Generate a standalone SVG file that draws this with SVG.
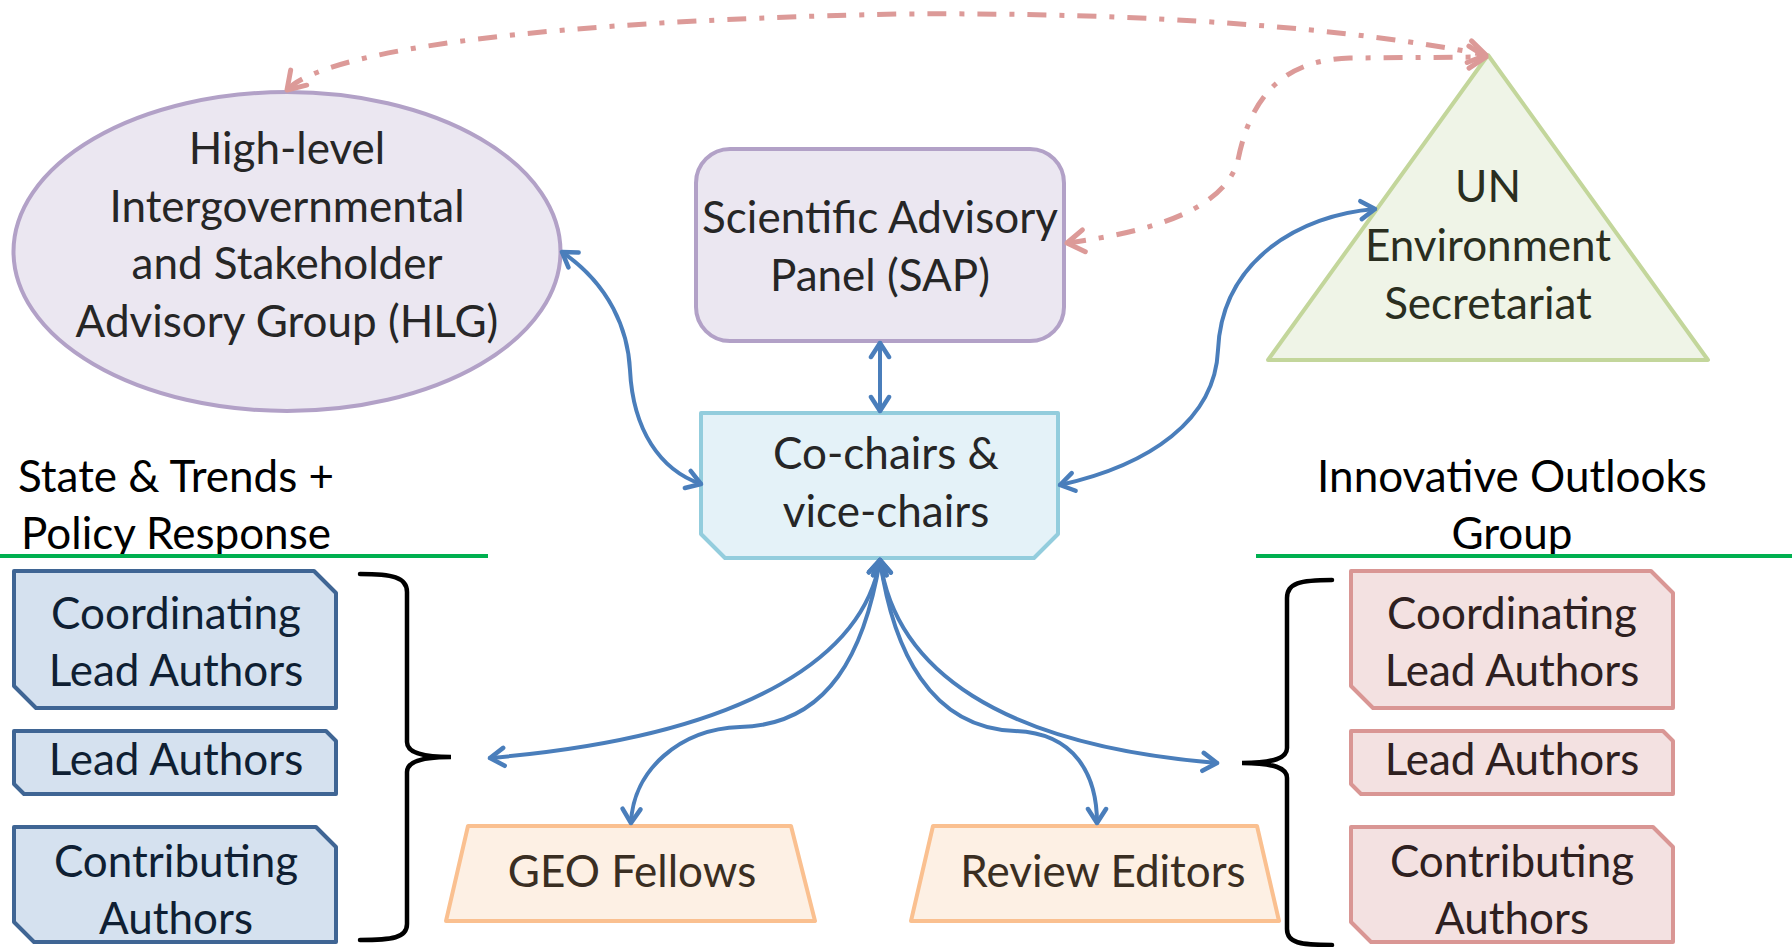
<svg xmlns="http://www.w3.org/2000/svg" width="1792" height="947" viewBox="0 0 1792 947">
<style>
text{font-family:Lato,"Liberation Sans",sans-serif;font-size:44px;text-anchor:middle}
.purple{fill:#EBE7F1;stroke:#B2A1C7;stroke-width:4}
.blue{fill:#D5E1EF;stroke:#3F6594;stroke-width:4;stroke-linejoin:round}
.pink{fill:#F3E1E1;stroke:#D99694;stroke-width:4;stroke-linejoin:round}
.orange{fill:#FDF0E4;stroke:#FAC090;stroke-width:4;stroke-linejoin:round}
.conn{fill:none;stroke:#4A7EBB;stroke-width:4;stroke-linecap:round}
.dash{fill:none;stroke:#DC9A98;stroke-width:5;stroke-dasharray:19 13 5 13}
.brace{fill:none;stroke:#000;stroke-width:4.5;stroke-linecap:round}
.green{stroke:#00B050;stroke-width:4}
.t1{fill:#262626}
.tb{fill:#0F1F33}
.tp{fill:#2E2020}
.to{fill:#3A2E22}
.tg{fill:#2A2E20}
.hd{fill:#000}
</style>
<defs>
<marker id="ab" markerUnits="userSpaceOnUse" viewBox="-20 -12 24 24" markerWidth="24" markerHeight="24" refX="0" refY="0" orient="auto-start-reverse">
<path d="M-14,-9 L0,0 L-14,9" fill="none" stroke="#4A7EBB" stroke-width="4.5" stroke-linecap="round" stroke-linejoin="round"/>
</marker>
<marker id="ap" markerUnits="userSpaceOnUse" viewBox="-22 -14 26 28" markerWidth="26" markerHeight="28" refX="0" refY="0" orient="auto-start-reverse">
<path d="M-17,-11 L0,0 L-17,11" fill="none" stroke="#DC9A98" stroke-width="5" stroke-linecap="round" stroke-linejoin="round"/>
</marker>
</defs>
<rect width="1792" height="947" fill="#fff"/>

<g id="hlg">
<ellipse class="purple" cx="287" cy="251.5" rx="273.5" ry="159.5"/>
<text class="t1" x="287" y="164">High-level</text>
<text class="t1" x="287" y="221.5">Intergovernmental</text>
<text class="t1" x="287" y="279">and Stakeholder</text>
<text class="t1" x="287" y="336.5">Advisory Group (HLG)</text>
</g>

<g id="sap">
<rect class="purple" x="696" y="149" width="368" height="192" rx="34"/>
<text class="t1" x="880" y="233">Scientific Advisory</text>
<text class="t1" x="880" y="291">Panel (SAP)</text>
</g>

<g id="un">
<polygon points="1488,55 1708,360 1268,360" fill="#EFF4E7" stroke="#C3D69B" stroke-width="4" stroke-linejoin="round"/>
<text class="tg" x="1488" y="202">UN</text>
<text class="tg" x="1488" y="261">Environment</text>
<text class="tg" x="1488" y="319">Secretariat</text>
</g>

<g id="cochairs">
<polygon points="701,413 1058,413 1058,534 1034,558 725,558 701,534" fill="#E4F2F8" stroke="#93CDDD" stroke-width="4" stroke-linejoin="round"/>
<text class="t1" x="886" y="469">Co-chairs &amp;</text>
<text class="t1" x="886" y="527">vice-chairs</text>
</g>

<g id="header-left">
<text class="hd" x="176" y="492">State &amp; Trends +</text>
<text class="hd" x="176" y="549">Policy Response</text>
<line class="green" x1="0" y1="556" x2="488" y2="556"/>
</g>

<g id="header-right">
<text class="hd" x="1512" y="492">Innovative Outlooks</text>
<text class="hd" x="1512" y="549">Group</text>
<line class="green" x1="1256" y1="556" x2="1792" y2="556"/>
</g>

<g id="left-cla">
<polygon class="blue" points="14,571 314,571 336,593 336,708 36,708 14,686"/>
<text class="tb" x="176" y="629">Coordinating</text>
<text class="tb" x="176" y="686">Lead Authors</text>
</g>
<g id="left-la">
<polygon class="blue" points="14,731 326,731 336,741 336,794 24,794 14,784"/>
<text class="tb" x="176" y="775">Lead Authors</text>
</g>
<g id="left-ca">
<polygon class="blue" points="14,827 316,827 336,847 336,942 34,942 14,922"/>
<text class="tb" x="176" y="877">Contributing</text>
<text class="tb" x="176" y="934">Authors</text>
</g>

<g id="right-cla">
<polygon class="pink" points="1351,571 1651,571 1673,593 1673,708 1373,708 1351,686"/>
<text class="tp" x="1512" y="629">Coordinating</text>
<text class="tp" x="1512" y="686">Lead Authors</text>
</g>
<g id="right-la">
<polygon class="pink" points="1351,731 1663,731 1673,741 1673,794 1361,794 1351,784"/>
<text class="tp" x="1512" y="775">Lead Authors</text>
</g>
<g id="right-ca">
<polygon class="pink" points="1351,827 1653,827 1673,847 1673,942 1371,942 1351,922"/>
<text class="tp" x="1512" y="877">Contributing</text>
<text class="tp" x="1512" y="934">Authors</text>
</g>

<g id="geo-fellows">
<polygon class="orange" points="468,826 791,826 815,921 446,921"/>
<text class="to" x="632" y="887">GEO Fellows</text>
</g>

<g id="review-editors">
<polygon class="orange" points="933,826 1257,826 1279,921 911,921"/>
<text class="to" x="1103" y="887">Review Editors</text>
</g>

<g id="braces">
<path class="brace" d="M360,574 C392,574 407,577 407,592 L407,742 C407,752 420,757 451,757 C420,757 407,762 407,772 L407,924 C407,938 392,940 360,940"/>
<path class="brace" d="M1332,580 C1300,580 1287,583 1287,598 L1287,748 C1287,758 1274,763 1242,763 C1274,763 1287,768 1287,778 L1287,929 C1287,943 1300,945 1332,945"/>
</g>

<g id="connectors">
<path class="conn" marker-start="url(#ab)" marker-end="url(#ab)" d="M562,252 C610,285 628,330 630,370 C633,430 660,470 701,484"/>
<path class="conn" marker-start="url(#ab)" marker-end="url(#ab)" d="M880,343 L880,411"/>
<path class="conn" marker-start="url(#ab)" marker-end="url(#ab)" d="M1060,485 C1150,465 1215,420 1218,350 C1222,260 1300,215 1375,209"/>
<path class="conn" marker-start="url(#ab)" marker-end="url(#ab)" d="M880,560 C865,650 760,735 490,758"/>
<path class="conn" marker-start="url(#ab)" marker-end="url(#ab)" d="M880,560 C865,650 830,725 740,727 C680,729 633,770 631,823"/>
<path class="conn" marker-start="url(#ab)" marker-end="url(#ab)" d="M880,560 C893,650 930,728 1015,731 C1075,733 1097,775 1097,823"/>
<path class="conn" marker-start="url(#ab)" marker-end="url(#ab)" d="M880,560 C895,670 1000,745 1217,763"/>
<path class="dash" marker-start="url(#ap)" marker-end="url(#ap)" d="M287,90 C320,55 500,22 900,14 C1150,12 1350,28 1486,55"/>
<path class="dash" marker-start="url(#ap)" marker-end="url(#ap)" d="M1067,243 C1150,232 1225,210 1238,160 C1250,100 1280,60 1350,58 L1486,57"/>
</g>
</svg>
